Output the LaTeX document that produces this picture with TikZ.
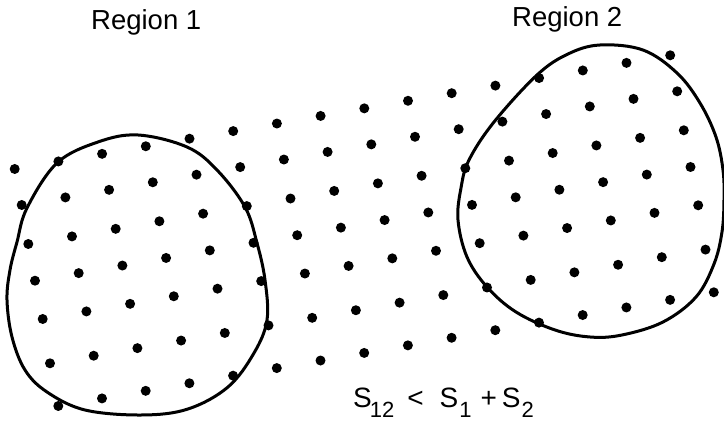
\documentclass[tikz,border=0pt]{standalone}
\usepackage{fontspec}
\setmainfont{Liberation Sans}
\newcommand\lowsub[1]{\raisebox{-0.34em}{\fontsize{22}{22}\selectfont #1}}
\tikzset{
  blob/.style={draw=black, line width=3pt},
  dotmark/.style={fill=black},
  label/.style={inner sep=0pt, font=\fontsize{27.5}{30}\selectfont}
}
\begin{document}
\begin{tikzpicture}[x=1pt,y=-1pt]
\useasboundingbox (0,0) rectangle (724,427);
% Region 1 outline
\draw[blob] plot[smooth cycle, tension=0.6] coordinates {
 (138,135) (187,147) (217,170) (245,207) (257,243) (265,280) (267,320)
 (254,353) (228,387) (188,409) (142,415) (85,410) (47,392) (25,370)
 (12,337) (7,300) (10,270) (17,242) (27,208) (57,163) (98,142)};
% Region 2 outline
\draw[blob] plot[smooth cycle, tension=0.6] coordinates {
 (600,45) (643,50) (677,73) (700,103) (716,137) (723,170) (724,200)
 (722,232) (714,264) (696,297) (663,322) (622,335) (590,337) (555,330)
 (516,312) (487,287) (467,257) (458,220) (461,188) (469,160) (494,122)
 (537,75) (568,54)};
% lattice of dots
\foreach \j/\sx/\sy in {0/14.7/169, 1/21.7/205, 2/28.3/244, 3/35/280.7,
                        4/42.7/319, 5/50/363.3, 6/58.3/406} {
  \foreach \i in {0,...,15} {
    \fill[dotmark] ({\sx+43.7*\i},{\sy-7.58*\i}) circle[radius=5pt];
  }
}
% labels
\node[label, anchor=base west] (r1) at (91,30) {Region 1};
\node[label, anchor=base west] (r2) at (512,26.7) {Region 2};
\node[label, anchor=base west, font=\fontsize{28}{30}\selectfont] (eq) at (353,408)
  {S\kern-2pt\lowsub{12}\hspace{13pt}<\hspace{16pt}S\kern1pt\lowsub{1}\hspace{9pt}+\hspace{5pt}S\kern1pt\lowsub{2}};
\end{tikzpicture}
\end{document}
